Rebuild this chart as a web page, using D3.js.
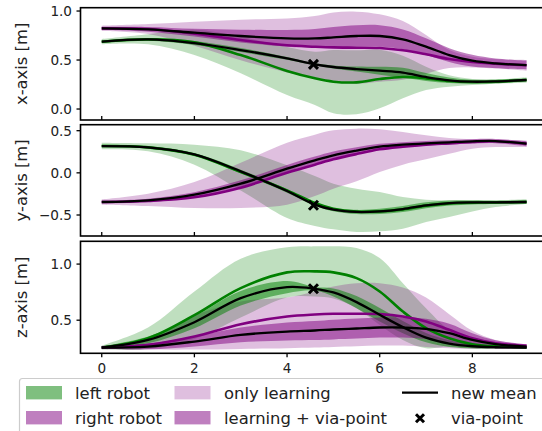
<!DOCTYPE html>
<html>
<head>
<meta charset="utf-8">
<script src="https://cdn.jsdelivr.net/npm/d3@7"></script>
<style>
  html, body { margin: 0; padding: 0; background: #fff; }
  svg { display: block; font-family: "DejaVu Sans", sans-serif; }
</style>
</head>
<body>
<svg id="chart" width="542" height="431"></svg>
<script>
// time samples (s)
const T = [0, 1, 2, 3, 4, 4.6, 5, 5.5, 6, 6.5, 7, 7.5, 8, 8.5, 9.17];

// ---------- x-axis ----------
const xLeftPriorMean  = [0.687, 0.711, 0.680, 0.551, 0.388, 0.313, 0.279, 0.272, 0.306, 0.327, 0.313, 0.286, 0.276, 0.279, 0.296];
const xLeftPriorLo    = [0.660, 0.660, 0.551, 0.364, 0.143, 0.041, -0.044, -0.054, 0.007, 0.109, 0.194, 0.228, 0.245, 0.259, 0.269];
const xLeftPriorHi    = [0.714, 0.762, 0.810, 0.738, 0.633, 0.585, 0.602, 0.599, 0.605, 0.544, 0.432, 0.344, 0.306, 0.299, 0.323];
const xLeftNewMean    = [0.687, 0.711, 0.673, 0.602, 0.517, 0.456, 0.429, 0.408, 0.391, 0.371, 0.327, 0.293, 0.279, 0.282, 0.296];
const xLeftNewSd      = [0.010, 0.015, 0.020, 0.020, 0.015, 0.010, 0.015, 0.025, 0.040, 0.050, 0.040, 0.028, 0.020, 0.020, 0.015];
const xRightPriorMean = [0.823, 0.816, 0.769, 0.704, 0.650, 0.636, 0.629, 0.626, 0.622, 0.599, 0.558, 0.510, 0.480, 0.463, 0.446];
const xRightPriorLo   = [0.796, 0.765, 0.646, 0.497, 0.374, 0.323, 0.272, 0.259, 0.279, 0.299, 0.361, 0.418, 0.425, 0.415, 0.391];
const xRightPriorHi   = [0.850, 0.867, 0.891, 0.912, 0.925, 0.949, 0.986, 0.993, 0.966, 0.898, 0.755, 0.602, 0.534, 0.510, 0.500];
const xRightNewMean   = [0.823, 0.813, 0.779, 0.745, 0.721, 0.721, 0.731, 0.745, 0.745, 0.711, 0.636, 0.551, 0.493, 0.466, 0.449];
const xRightNewSd     = [0.017, 0.025, 0.040, 0.065, 0.085, 0.095, 0.105, 0.110, 0.110, 0.100, 0.085, 0.070, 0.060, 0.050, 0.045];

// ---------- y-axis ----------
const yLeftPriorMean  = [0.318, 0.302, 0.215, 0.010, -0.208, -0.358, -0.425, -0.460, -0.457, -0.433, -0.389, -0.362, -0.354, -0.350, -0.346];
const yLeftPriorLo    = [0.279, 0.255, 0.097, -0.208, -0.536, -0.630, -0.670, -0.701, -0.694, -0.662, -0.583, -0.524, -0.457, -0.405, -0.370];
const yLeftPriorHi    = [0.358, 0.350, 0.334, 0.267, 0.089, -0.038, -0.128, -0.188, -0.227, -0.287, -0.318, -0.326, -0.330, -0.326, -0.314];
const yLeftNewMean    = [0.318, 0.302, 0.219, 0.018, -0.215, -0.377, -0.437, -0.464, -0.457, -0.429, -0.385, -0.358, -0.350, -0.350, -0.346];
const yLeftNewSd      = [0.015, 0.015, 0.015, 0.020, 0.020, 0.012, 0.018, 0.025, 0.030, 0.035, 0.035, 0.030, 0.025, 0.020, 0.020];
const yRightPriorMean = [-0.346, -0.334, -0.290, -0.176, 0.002, 0.097, 0.160, 0.223, 0.279, 0.310, 0.334, 0.350, 0.366, 0.374, 0.346];
const yRightPriorLo   = [-0.377, -0.393, -0.417, -0.417, -0.377, -0.275, -0.188, -0.101, 0.010, 0.097, 0.160, 0.227, 0.287, 0.306, 0.306];
const yRightPriorHi   = [-0.314, -0.247, -0.109, 0.121, 0.358, 0.453, 0.504, 0.524, 0.516, 0.484, 0.445, 0.413, 0.397, 0.393, 0.385];
const yRightNewMean   = [-0.346, -0.326, -0.259, -0.128, 0.049, 0.148, 0.208, 0.263, 0.310, 0.334, 0.350, 0.362, 0.374, 0.377, 0.346];
const yRightNewSd     = [0.015, 0.020, 0.030, 0.040, 0.045, 0.045, 0.045, 0.040, 0.035, 0.030, 0.028, 0.025, 0.025, 0.025, 0.030];

// ---------- z-axis ----------
const zLeftPriorMean  = [0.256, 0.339, 0.545, 0.786, 0.926, 0.935, 0.926, 0.875, 0.756, 0.577, 0.429, 0.339, 0.286, 0.268, 0.259];
const zLeftPriorLo    = [0.238, 0.244, 0.333, 0.524, 0.702, 0.711, 0.693, 0.607, 0.458, 0.324, 0.250, 0.265, 0.247, 0.250, 0.244];
const zLeftPriorHi    = [0.274, 0.435, 0.756, 1.048, 1.149, 1.158, 1.158, 1.143, 1.054, 0.830, 0.607, 0.414, 0.324, 0.286, 0.274];
const zLeftNewMean    = [0.256, 0.324, 0.482, 0.696, 0.795, 0.780, 0.747, 0.661, 0.548, 0.438, 0.345, 0.292, 0.268, 0.259, 0.256];
const zLeftNewSd      = [0.009, 0.030, 0.054, 0.065, 0.054, 0.015, 0.036, 0.054, 0.060, 0.054, 0.042, 0.030, 0.018, 0.012, 0.009];
const zRightPriorMean = [0.256, 0.280, 0.354, 0.464, 0.533, 0.551, 0.557, 0.557, 0.554, 0.533, 0.488, 0.414, 0.339, 0.295, 0.271];
const zRightPriorLo   = [0.241, 0.238, 0.238, 0.244, 0.250, 0.256, 0.262, 0.268, 0.274, 0.274, 0.262, 0.250, 0.244, 0.244, 0.244];
const zRightPriorHi   = [0.271, 0.339, 0.542, 0.667, 0.702, 0.756, 0.801, 0.830, 0.830, 0.792, 0.702, 0.554, 0.405, 0.324, 0.286];
const zRightNewMean   = [0.256, 0.265, 0.310, 0.369, 0.399, 0.408, 0.417, 0.426, 0.435, 0.435, 0.423, 0.384, 0.324, 0.286, 0.265];
const zRightNewSd     = [0.010, 0.025, 0.045, 0.065, 0.080, 0.085, 0.088, 0.090, 0.090, 0.090, 0.090, 0.085, 0.060, 0.035, 0.020];

// via-point (time, and its x / y / z coordinate)
const viaTime = 4.57;
const viaValues = [0.456, -0.385, 0.78];

// tick labels
const xTicks = [0, 2, 4, 6, 8];
const yTicksX = [0.0, 0.5, 1.0];
const yTicksY = [-0.5, 0.0, 0.5];
const yTicksZ = [0.5, 1.0];
const axisLabels = ["x-axis [m]", "y-axis [m]", "z-axis [m]"];

// legend entries
const legendLabels = ["left robot", "right robot", "only learning", "learning + via-point", "new mean", "via-point"];

// ---------- layout ----------
const GREEN = "#008000", PURPLE = "#800080";
const svg = d3.select("#chart");
const plotLeft = 80.5, plotRight = 547.8;
const x = d3.scaleLinear().domain([-0.4585, 9.6285]).range([plotLeft, plotRight]);

const panels = [
  { top: 7.7,   bottom: 120,   domain: [-0.112, 1.034], ticks: yTicksX, xTickDir: -1,
    left:  [xLeftPriorMean, xLeftPriorLo, xLeftPriorHi, xLeftNewMean, xLeftNewSd],
    right: [xRightPriorMean, xRightPriorLo, xRightPriorHi, xRightNewMean, xRightNewSd] },
  { top: 124.7, bottom: 236,   domain: [-0.749, 0.571], ticks: yTicksY, xTickDir: -1,
    left:  [yLeftPriorMean, yLeftPriorLo, yLeftPriorHi, yLeftNewMean, yLeftNewSd],
    right: [yRightPriorMean, yRightPriorLo, yRightPriorHi, yRightNewMean, yRightNewSd] },
  { top: 241.3, bottom: 353.3, domain: [0.205, 1.203], ticks: yTicksZ, xTickDir: 1,
    left:  [zLeftPriorMean, zLeftPriorLo, zLeftPriorHi, zLeftNewMean, zLeftNewSd],
    right: [zRightPriorMean, zRightPriorLo, zRightPriorHi, zRightNewMean, zRightNewSd] }
];

const curve = d3.curveCatmullRom.alpha(0.5);
const fmt = d3.format(".1f");

function crossPath(cx, cy, r) {
  return `M${cx - r},${cy - r}L${cx + r},${cy + r}M${cx - r},${cy + r}L${cx + r},${cy - r}`;
}

panels.forEach((p, k) => {
  const y = d3.scaleLinear().domain(p.domain).range([p.bottom, p.top]);
  const clipId = "clip" + k;
  svg.append("clipPath").attr("id", clipId)
    .append("rect").attr("x", plotLeft).attr("y", p.top)
    .attr("width", plotRight - plotLeft).attr("height", p.bottom - p.top);
  const g = svg.append("g").attr("clip-path", `url(#${clipId})`);

  const band = (lo, hi) => d3.area()
    .x((d, i) => x(T[i])).y0((d, i) => y(lo[i])).y1((d, i) => y(hi[i])).curve(curve)(T);
  const line = (m) => d3.line().x((d, i) => x(T[i])).y((d, i) => y(m[i])).curve(curve)(T);
  const sdLo = (m, s) => m.map((v, i) => v - s[i]);
  const sdHi = (m, s) => m.map((v, i) => v + s[i]);

  const [lm, llo, lhi, lnm, lns] = p.left;
  const [rm, rlo, rhi, rnm, rns] = p.right;

  // prior ("only learning") bands
  g.append("path").attr("d", band(llo, lhi)).attr("fill", GREEN).attr("fill-opacity", 0.25);
  g.append("path").attr("d", band(rlo, rhi)).attr("fill", PURPLE).attr("fill-opacity", 0.25);
  // conditioned ("learning + via-point") bands
  g.append("path").attr("d", band(sdLo(lnm, lns), sdHi(lnm, lns))).attr("fill", GREEN).attr("fill-opacity", 0.5);
  g.append("path").attr("d", band(sdLo(rnm, rns), sdHi(rnm, rns))).attr("fill", PURPLE).attr("fill-opacity", 0.5);

  // prior means
  g.append("path").attr("d", line(lm)).attr("fill", "none").attr("stroke", GREEN).attr("stroke-width", 2.6);
  g.append("path").attr("d", line(rm)).attr("fill", "none").attr("stroke", PURPLE).attr("stroke-width", 2.6);
  // new means
  g.append("path").attr("d", line(lnm)).attr("fill", "none").attr("stroke", "#000").attr("stroke-width", 2.3);
  g.append("path").attr("d", line(rnm)).attr("fill", "none").attr("stroke", "#000").attr("stroke-width", 2.3);

  // via-point
  g.append("path").attr("d", crossPath(x(viaTime), y(viaValues[k]), 4.5))
    .attr("stroke", "#000").attr("stroke-width", 3).attr("fill", "none");

  // frame
  svg.append("rect").attr("x", plotLeft).attr("y", p.top)
    .attr("width", plotRight - plotLeft).attr("height", p.bottom - p.top)
    .attr("fill", "none").attr("stroke", "#000").attr("stroke-width", 1.6);

  // y ticks
  const yt = svg.append("g");
  p.ticks.forEach(v => {
    yt.append("line").attr("x1", plotLeft - 4).attr("x2", plotLeft)
      .attr("y1", y(v)).attr("y2", y(v)).attr("stroke", "#000").attr("stroke-width", 1.3);
    yt.append("text").attr("x", plotLeft - 8.5).attr("y", y(v)).attr("dy", "0.36em")
      .attr("text-anchor", "end").attr("font-size", 13.6).attr("fill", "#222").text(fmt(v));
  });

  // x ticks
  xTicks.forEach(v => {
    svg.append("line").attr("x1", x(v)).attr("x2", x(v))
      .attr("y1", p.bottom).attr("y2", p.bottom + 4 * p.xTickDir)
      .attr("stroke", "#000").attr("stroke-width", 1.3);
  });
  if (k === panels.length - 1) {
    xTicks.forEach(v => {
      svg.append("text").attr("x", x(v)).attr("y", p.bottom + 19.3)
        .attr("text-anchor", "middle").attr("font-size", 13.6).attr("fill", "#222").text(v);
    });
  }

  // axis label
  const cy = (p.top + p.bottom) / 2;
  svg.append("text").attr("transform", `translate(26.5,${cy}) rotate(-90)`)
    .attr("text-anchor", "middle").attr("font-size", 16.4).attr("fill", "#222").text(axisLabels[k]);
});

// ---------- legend ----------
const lg = svg.append("g");
lg.append("rect").attr("x", 19.5).attr("y", 378.5).attr("width", 540).attr("height", 70)
  .attr("rx", 3).attr("fill", "#fff").attr("fill-opacity", 0.8).attr("stroke", "#cccccc").attr("stroke-width", 1.2);

const rowY = [392.7, 417.7];
const swatches = [
  { col: 0, row: 0, color: GREEN, op: 0.5, label: legendLabels[0] },
  { col: 0, row: 1, color: PURPLE, op: 0.5, label: legendLabels[1] },
  { col: 1, row: 0, color: PURPLE, op: 0.25, label: legendLabels[2] },
  { col: 1, row: 1, color: PURPLE, op: 0.5, label: legendLabels[3] }
];
const colX = [26, 174.5, 402];
const textX = [75, 224, 451];
swatches.forEach(s => {
  lg.append("rect").attr("x", colX[s.col]).attr("y", rowY[s.row] - 6.7)
    .attr("width", 36).attr("height", 13.4).attr("fill", s.color).attr("fill-opacity", s.op);
  lg.append("text").attr("x", textX[s.col]).attr("y", rowY[s.row]).attr("dy", "0.36em")
    .attr("font-size", 16.4).attr("fill", "#222").text(s.label);
});
lg.append("line").attr("x1", colX[2]).attr("x2", colX[2] + 36).attr("y1", rowY[0]).attr("y2", rowY[0])
  .attr("stroke", "#000").attr("stroke-width", 2.2);
lg.append("text").attr("x", textX[2]).attr("y", rowY[0]).attr("dy", "0.36em")
  .attr("font-size", 16.4).attr("fill", "#222").text(legendLabels[4]);
lg.append("path").attr("d", crossPath(colX[2] + 18, rowY[1] + 0.5, 4))
  .attr("stroke", "#000").attr("stroke-width", 3).attr("fill", "none");
lg.append("text").attr("x", textX[2]).attr("y", rowY[1]).attr("dy", "0.36em")
  .attr("font-size", 16.4).attr("fill", "#222").text(legendLabels[5]);
</script>
</body>
</html>
